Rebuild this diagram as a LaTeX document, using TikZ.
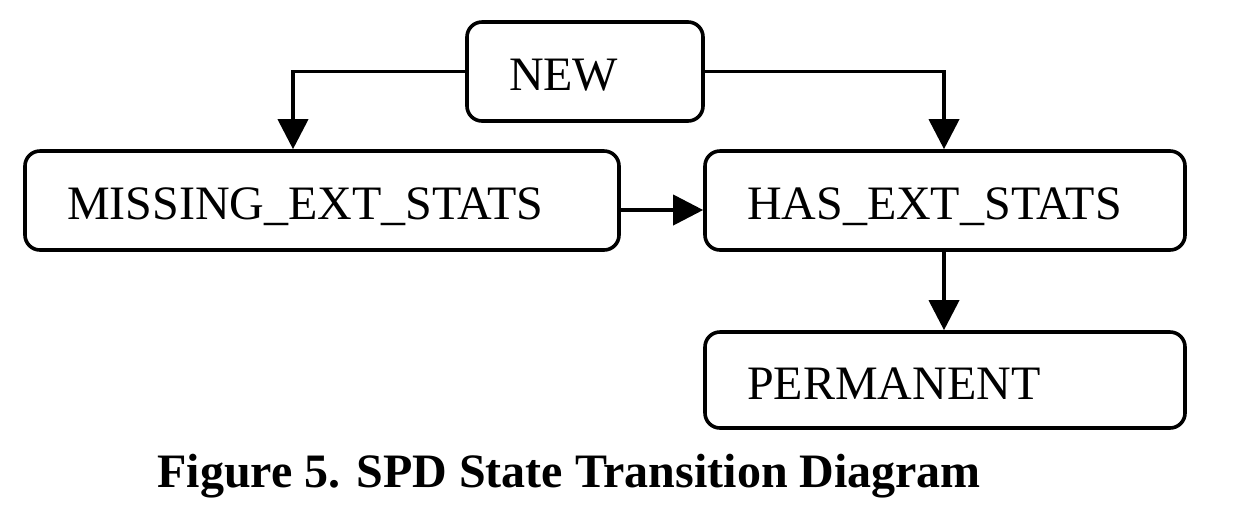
\documentclass[tikz,border=0pt]{standalone}
\usepackage{fontspec}
\setmainfont{Liberation Serif}
\usetikzlibrary{arrows.meta}
\begin{document}
\begin{tikzpicture}[x=0.5pt,y=-0.5pt,
  statebox/.style={draw=black, line width=1.8pt, rounded corners=7.5pt,
    minimum height=49.5pt, inner xsep=21pt, align=left,
    text height=19pt, text depth=0pt, font=\fontsize{24pt}{28pt}\selectfont},
  arr/.style={line width=1.9pt, -{Triangle[length=15pt,width=15pt]}}]
\useasboundingbox (0,0) rectangle (1236,516);
\node[statebox, minimum width=118pt, text width=76pt] (new) at (585,71.5) {NEW};
\node[statebox, minimum width=297pt, text width=255pt] (missing) at (322,200.5) {MISSING\_EXT\_STATS};
\node[statebox, minimum width=240pt, text width=198pt] (has) at (945,200.5) {HAS\_EXT\_STATS};
\node[statebox, minimum width=240pt, text width=198pt, minimum height=48pt] (perm) at (945,380) {PERMANENT};
\node[anchor=base west, inner sep=0pt, font=\fontsize{24pt}{28pt}\selectfont\bfseries] (cap) at (157,487) {Figure 5. SPD State Transition Diagram};
\coordinate (lx) at (293,0);
\coordinate (rx) at (944,0);
\coordinate (my) at (0,210);
\draw[arr] (new.west) -| (lx |- missing.north);
\draw[arr] (new.east) -| (rx |- has.north);
\draw[arr] (missing.east |- my) -- (has.west |- my);
\draw[arr] (rx |- has.south) -- (rx |- perm.north);
\end{tikzpicture}
\end{document}
